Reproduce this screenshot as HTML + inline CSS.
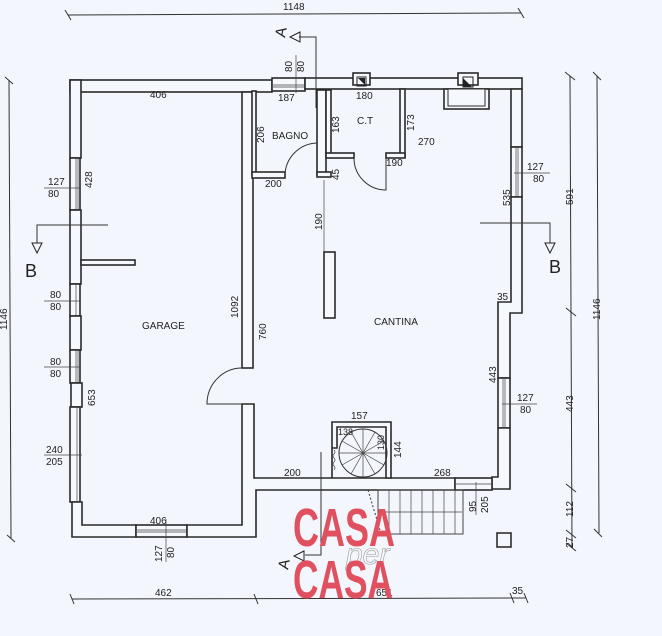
<!DOCTYPE html>
<html><head><meta charset="utf-8"><style>
html,body{margin:0;padding:0;background:#f3f6fc;}
svg{display:block;}
text{font-family:"Liberation Sans",sans-serif;font-size:10px;fill:#222;}
.w{fill:#f5f8fd;stroke:#2a2a2a;stroke-width:1.6;}
.l{stroke:#333;stroke-width:1;fill:none;}
.t{stroke:#444;stroke-width:0.7;fill:none;}
text.wm{font-family:"Liberation Sans",sans-serif;font-weight:bold;font-size:54px;fill:#e0505e;}
</style></head><body>
<svg width="662" height="636" viewBox="0 0 662 636" xmlns="http://www.w3.org/2000/svg">
<rect width="662" height="636" fill="#f3f6fc"/>
<line class="l" x1="68" y1="15" x2="521" y2="13"/>
<line class="l" x1="65" y1="10" x2="71" y2="20"/><line class="l" x1="518" y1="8" x2="524" y2="18"/>
<text x="283" y="10">1148</text>
<line class="l" x1="9" y1="80" x2="11" y2="538"/>
<line class="l" x1="5" y1="77" x2="13" y2="84"/><line class="l" x1="7" y1="535" x2="15" y2="542"/>
<text transform="translate(7,330) rotate(-90)">1146</text>
<line class="l" x1="570" y1="76" x2="572" y2="548"/>
<line class="l" x1="565" y1="72" x2="575" y2="80"/><line class="l" x1="566" y1="308" x2="576" y2="316"/><line class="l" x1="566" y1="484" x2="576" y2="492"/><line class="l" x1="566" y1="530" x2="576" y2="538"/><line class="l" x1="566" y1="543" x2="576" y2="551"/>
<text transform="translate(573,205) rotate(-90)">591</text>
<text transform="translate(573,412) rotate(-90)">443</text>
<text transform="translate(573,517) rotate(-90)">112</text>
<text transform="translate(573,548) rotate(-90)">27</text>
<line class="l" x1="597" y1="76" x2="599" y2="533"/>
<line class="l" x1="593" y1="72" x2="601" y2="80"/><line class="l" x1="594" y1="529" x2="602" y2="537"/>
<text transform="translate(600,320) rotate(-90)">1146</text>
<line class="l" x1="72" y1="599" x2="526" y2="598"/>
<line class="l" x1="70" y1="594" x2="74" y2="604"/><line class="l" x1="254" y1="594" x2="258" y2="604"/><line class="l" x1="510" y1="593" x2="514" y2="603"/><line class="l" x1="524" y1="593" x2="528" y2="603"/>
<text x="155" y="596">462</text><text x="376" y="596">651</text><text x="512" y="594">35</text>

<rect class="w" x="70" y="80" width="202" height="12"/>
<rect class="w" x="70" y="80" width="11" height="78"/>
<rect class="w" x="272" y="78" width="33" height="13"/>
<line class="t" x1="273" y1="85" x2="304" y2="85"/><line class="t" x1="273" y1="87" x2="304" y2="87"/>
<rect class="w" x="305" y="78" width="217" height="11"/>
<rect class="w" x="353" y="73" width="17" height="12"/>
<rect class="w" x="458" y="73" width="20" height="12"/>
<polygon points="358,78 365,78 365,85" fill="#222"/>
<rect x="357" y="77" width="9" height="9" fill="none" stroke="#222"/>
<polygon points="463,78 472,87 463,87" fill="#222"/>
<rect x="463" y="77" width="10" height="10" fill="none" stroke="#222"/>
<rect class="w" x="444" y="89" width="45" height="20"/>
<rect x="448" y="89" width="37" height="17" fill="#f5f8fd" stroke="#2a2a2a" stroke-width="1"/>
<rect class="w" x="70" y="158" width="10" height="52"/>
<line class="t" x1="76" y1="158" x2="76" y2="210"/><line class="t" x1="78" y1="158" x2="78" y2="210"/>
<rect class="w" x="70" y="210" width="11" height="74"/>
<rect class="w" x="70" y="284" width="10" height="32"/>
<line class="t" x1="76" y1="284" x2="76" y2="316"/>
<rect class="w" x="70" y="316" width="11" height="34"/>
<rect class="w" x="70" y="350" width="10" height="33"/>
<line class="t" x1="76" y1="350" x2="76" y2="383"/><line class="t" x1="78" y1="350" x2="78" y2="383"/>
<rect class="w" x="71" y="383" width="11" height="24"/>
<rect class="w" x="70" y="407" width="10" height="95"/>
<line class="t" x1="77" y1="407" x2="77" y2="502"/>
<rect class="w" x="81" y="260" width="54" height="5"/>
<path class="w" d="M72,502 H82 V525 H136 V537 H72 Z"/>
<rect class="w" x="136" y="525" width="51" height="12"/>
<line class="t" x1="137" y1="530" x2="186" y2="530"/><line class="t" x1="137" y1="532" x2="186" y2="532"/>
<path class="w" d="M187,525 H242 V404 H254 V478 H455 V490 H256 V537 H187 Z"/>
<rect class="w" x="242" y="92" width="11" height="276"/>
<path class="l" d="M242,368 A35,36 0 0 0 207,404 H242"/>
<rect class="w" x="252" y="91" width="4" height="84"/>
<rect class="w" x="252" y="172" width="33" height="6"/>
<rect class="w" x="317" y="90" width="9" height="85"/>
<rect class="w" x="317" y="172" width="14" height="5"/>
<path class="l" d="M317,143 A33,33 0 0 0 285,175"/>
<rect class="w" x="326" y="90" width="5" height="67"/>
<rect class="w" x="326" y="153" width="28" height="5"/>
<rect class="w" x="400" y="89" width="5" height="68"/>
<rect class="w" x="386" y="153" width="19" height="5"/>
<path class="l" d="M354,158 A32,32 0 0 0 386,190 V158"/>
<path class="w" d="M511,89 H522 V147 H511 Z"/>
<rect class="w" x="511" y="147" width="11" height="50"/>
<line class="t" x1="516" y1="147" x2="516" y2="197"/><line class="t" x1="518" y1="147" x2="518" y2="197"/>
<path class="w" d="M511,197 H522 V313 H510 V378 H498 V302 H511 Z"/>
<rect class="w" x="498" y="378" width="12" height="50"/>
<line class="t" x1="503" y1="378" x2="503" y2="428"/><line class="t" x1="505" y1="378" x2="505" y2="428"/>
<path class="w" d="M498,428 H510 V489 H492 V477 H498 Z"/>
<rect class="w" x="455" y="478" width="37" height="12"/>
<line class="t" x1="456" y1="484" x2="491" y2="484"/>
<rect class="w" x="324" y="252" width="11" height="66"/>
<path class="w" d="M332,478 V422 H391 V478 H386 V427 H337 V448 H332"/>
<circle cx="363" cy="453" r="24" class="l"/>
<g class="t">
<line x1="363" y1="453" x2="363" y2="429"/><line x1="363" y1="453" x2="375" y2="432"/><line x1="363" y1="453" x2="384" y2="441"/><line x1="363" y1="453" x2="387" y2="453"/><line x1="363" y1="453" x2="384" y2="465"/><line x1="363" y1="453" x2="375" y2="474"/><line x1="363" y1="453" x2="363" y2="477"/><line x1="363" y1="453" x2="351" y2="474"/><line x1="363" y1="453" x2="342" y2="465"/><line x1="363" y1="453" x2="339" y2="453"/><line x1="363" y1="453" x2="342" y2="441"/><line x1="363" y1="453" x2="351" y2="432"/>
</g>
<path class="t" d="M334,450 q2,2 0,4 q-2,2 0,4 q2,2 0,4 q-2,2 0,4 q2,2 0,4"/>
<rect x="378" y="490" width="85" height="44" fill="none" stroke="#444" stroke-width="1"/>
<g class="t">
<line x1="389" y1="490" x2="389" y2="534"/><line x1="400" y1="490" x2="400" y2="534"/><line x1="411" y1="490" x2="411" y2="534"/><line x1="422" y1="490" x2="422" y2="534"/><line x1="433" y1="490" x2="433" y2="534"/><line x1="444" y1="490" x2="444" y2="534"/><line x1="455" y1="490" x2="455" y2="534"/>
<line x1="380" y1="512" x2="462" y2="512"/>
<line x1="476" y1="482" x2="476" y2="515"/>
</g>
<path d="M368,490 L380,530" stroke="#333" stroke-dasharray="2,2" fill="none"/>
<rect x="497" y="533" width="14" height="14" fill="none" stroke="#222" stroke-width="1.5"/>
<path class="l" d="M316,108 V37 H299"/>
<polygon points="300,32 290,37 300,42" fill="none" stroke="#222"/>
<text style="font-size:15px" transform="translate(285,38) rotate(-80)">A</text>
<path class="l" d="M321,452 V555 H305"/>
<polygon points="304,551 294,556 304,561" fill="none" stroke="#222"/>
<text style="font-size:15px" transform="translate(288,570) rotate(-80)">A</text>
<path class="l" d="M108,225 H37 V243"/>
<polygon points="32,243 37,253 42,243" fill="none" stroke="#222"/>
<text x="25" y="277" style="font-size:18px">B</text>
<path class="l" d="M480,223 H550 V243"/>
<polygon points="545,243 550,253 555,243" fill="none" stroke="#222"/>
<text x="549" y="273" style="font-size:18px">B</text>
<text x="150" y="98">406</text>
<text x="278" y="101">187</text>
<text x="356" y="99">180</text>
<text x="418" y="145">270</text>
<text x="272" y="139">BAGNO</text>
<text x="357" y="124">C.T</text>
<text x="142" y="329">GARAGE</text>
<text x="374" y="325">CANTINA</text>
<text x="265" y="187">200</text>
<text x="386" y="166">190</text>
<text x="150" y="524">406</text>
<text x="351" y="419">157</text>
<text x="338" y="435" style="font-size:9px">138</text>
<text x="284" y="476">200</text>
<text x="434" y="476">268</text>
<text x="48" y="185">127</text><text x="48" y="197">80</text>
<line class="t" x1="44" y1="188" x2="80" y2="188"/>
<text x="50" y="298">80</text><text x="50" y="310">80</text>
<line class="t" x1="44" y1="301" x2="80" y2="301"/>
<text x="50" y="365">80</text><text x="50" y="377">80</text>
<line class="t" x1="44" y1="367" x2="80" y2="367"/>
<text x="46" y="453">240</text><text x="46" y="465">205</text>
<line class="t" x1="44" y1="455" x2="82" y2="455"/>
<text x="527" y="170">127</text><text x="533" y="182">80</text>
<line class="t" x1="514" y1="173" x2="550" y2="173"/>
<text x="517" y="401">127</text><text x="520" y="413">80</text>
<line class="t" x1="502" y1="404" x2="537" y2="404"/>
<text x="497" y="300">35</text>
<text transform="translate(92,188) rotate(-90)">428</text>
<text transform="translate(95,406) rotate(-90)">653</text>
<text transform="translate(238,318) rotate(-90)">1092</text>
<text transform="translate(266,340) rotate(-90)">760</text>
<text transform="translate(264,143) rotate(-90)">206</text>
<text transform="translate(339,133) rotate(-90)">163</text>
<text transform="translate(414,131) rotate(-90)">173</text>
<text transform="translate(339,180) rotate(-90)">45</text>
<text transform="translate(322,230) rotate(-90)">190</text>
<line class="t" x1="324" y1="180" x2="324" y2="252"/>
<text transform="translate(510,206) rotate(-90)">535</text>
<text transform="translate(496,383) rotate(-90)">443</text>
<text transform="translate(384,450) rotate(-90)" style="font-size:9px">130</text>
<text transform="translate(401,458) rotate(-90)">144</text>
<text transform="translate(476,512) rotate(-90)">95</text>
<text transform="translate(488,513) rotate(-90)">205</text>
<line class="t" x1="166" y1="519" x2="166" y2="562"/>
<text transform="translate(162,562) rotate(-90)">127</text>
<text transform="translate(174,558) rotate(-90)">80</text>
<line class="t" x1="296" y1="55" x2="296" y2="93"/>
<text transform="translate(292,72) rotate(-90)">80</text>
<text transform="translate(304,72) rotate(-90)">80</text>
<text class="wm" x="293" y="546" textLength="102" lengthAdjust="spacingAndGlyphs">CASA</text>
<text x="346" y="564" style="font-family:'Liberation Sans';font-style:italic;font-size:30px;fill:#f5f8fd;stroke:#999;stroke-width:0.6">per</text>
<text class="wm" x="293" y="598" textLength="100" lengthAdjust="spacingAndGlyphs">CASA</text>
</svg>
</body></html>
